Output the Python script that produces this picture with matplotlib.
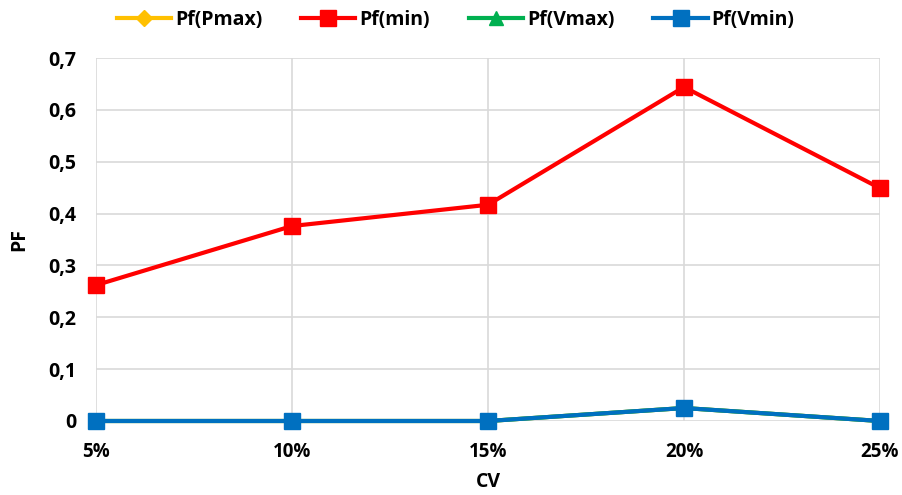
import matplotlib
matplotlib.use("Agg")
import matplotlib.pyplot as plt
from matplotlib.ticker import FuncFormatter

cv_labels = ["5%", "10%", "15%", "20%", "25%"]
pf_pmax = [0.0, 0.0, 0.0, 0.025, 0.0]
pf_min = [0.262, 0.376, 0.417, 0.644, 0.449]
pf_vmax = [0.0, 0.0, 0.0, 0.025, 0.0]
pf_vmin = [0.0, 0.0, 0.0, 0.025, 0.0]

plt.rcParams['font.family'] = ['Open Sans', 'DejaVu Sans']

fig = plt.figure(figsize=(9.02, 4.95), dpi=100)
ax = fig.add_axes([0.1064, 0.1495, 0.8692, 0.7333])

x = list(range(len(cv_labels)))
series = [
    ("Pf(Pmax)", pf_pmax, "#FFC000", "D", 8),
    ("Pf(min)", pf_min, "#FF0000", "s", 12),
    ("Pf(Vmax)", pf_vmax, "#00B050", "^", 10),
    ("Pf(Vmin)", pf_vmin, "#0070C0", "s", 12),
]
for name, vals, col, mk, ms in series:
    ax.plot(x, vals, color=col, marker=mk, markersize=ms, linewidth=3.0,
            label=name, clip_on=False, zorder=3)

ax.set_xlim(0, len(cv_labels) - 1)
ax.set_ylim(0, 0.7)
ax.set_xticks(x)
ax.set_xticklabels(cv_labels)
ax.set_yticks([i / 10 for i in range(8)])
ax.yaxis.set_major_formatter(FuncFormatter(
    lambda v, p: "0" if abs(v) < 1e-9 else f"{v:.1f}".replace(".", ",")))

ax.grid(True, color="#D9D9D9", linewidth=1.2, zorder=0)
for s in ax.spines.values():
    s.set_visible(False)
ax.tick_params(axis="x", length=0, labelsize=13.5, pad=15)
ax.tick_params(axis="y", length=0, labelsize=14, pad=14)
for lbl in ax.get_xticklabels() + ax.get_yticklabels():
    lbl.set_fontweight("bold")

ax.set_xlabel("CV", fontsize=14, fontweight="bold", labelpad=7)
ax.set_ylabel("PF", fontsize=14, fontweight="bold", labelpad=14)

leg = fig.legend(loc="upper center", bbox_to_anchor=(0.505, 1.015), ncol=4,
                 frameon=False, prop={"size": 14, "weight": "bold"},
                 handlelength=2.8, columnspacing=2.0, handletextpad=0.2)

fig.savefig("out.png", dpi=100)
